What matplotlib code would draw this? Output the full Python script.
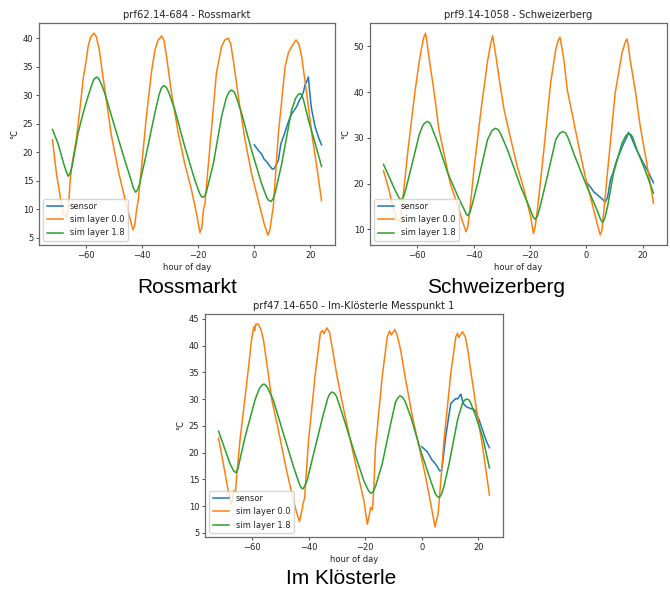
import matplotlib
matplotlib.use("Agg")
import matplotlib.pyplot as plt

# ---------------- data ----------------
hours_label = "hour of day"

ross_sim0_h = [-72, -70.5, -69, -68, -67.0, -66.4, -66.0, -65.6, -65, -63.4, -62, -61, -60, -59.3, -58.4, -57.2, -56.4,
               -55.3, -54.2, -53.3, -51, -48.4, -46, -44.4, -43.3, -42.7, -42.1, -41.4, -40.2, -38.5, -36.7, -35.5,
               -34.4, -33, -32.2, -31.3, -29.5, -27.1, -24.8, -22.4, -20.5, -19.4, -18.7, -18.1, -17.6, -15.2, -13.5,
               -11.7, -10.5, -9.3, -8.4, -7.5, -5.7, -3.3, -1, 1.4, 3.5, 4.8, 5.5, 6.2, 6.8, 8.6, 11, 12.2, 13.3,
               14.9, 15.9, 16.9, 18.7, 20.5, 22.3, 24]
ross_sim0_v = [22.2, 16.0, 11.5, 9.2, 8.7, 9.5, 12.5, 15.5, 18.0, 22.5, 28.5, 33.0, 36.0, 38.5, 40.2, 40.9, 40.3,
               38.0, 34.0, 31.0, 23.0, 16.5, 11.5, 8.5, 6.4, 7.0, 9.5, 11.6, 17.5, 26.2, 34.0, 37.8,
               39.6, 40.4, 39.6, 36.8, 30.3, 23.3, 18.0, 13.4, 9.0, 5.9, 6.8, 10.0, 11.0, 24.5, 33.9,
               38.5, 39.7, 40.0, 39.0, 36.2, 29.8, 22.2, 16.3, 11.6, 7.5, 5.5, 6.2, 8.5, 10.5, 23.3, 35.0, 37.5, 38.5,
               39.7, 39.0, 36.8, 30.3, 23.3, 17.5, 11.5]
ross_sim18_h = [-72, -70, -68, -67, -66.4, -65.7, -65, -62.9, -61, -59.3, -58, -57.2, -56.3, -55.5, -54.5, -53.3,
                -49.8, -46.2, -44, -43.2, -42.3, -41.6, -41, -39, -35.5, -34, -33.2, -32.3, -31.4, -30.5, -28.3,
                -24.8, -21.2, -19.5, -18.8, -18.2, -17.6, -17, -14.6, -11.7, -10, -9, -8.1, -7.2, -6.5,
                -4.5, -1, 2.6, 4.5, 5.3, 6, 6.7, 7.5, 9.8, 13.3, 14.8, 15.6, 16.3, 17, 17.5, 19.3, 21.7, 24]
ross_sim18_v = [24.0, 21.5, 18.0, 16.5, 15.8, 16.3, 17.5, 23.3, 27.0, 29.8, 31.8, 32.8, 33.2, 32.9, 31.9, 30.3,
                24.5, 18.6, 15.2, 13.8, 13.0, 13.4, 14.3, 18.6, 26.8, 30.0, 31.2, 31.7, 31.4, 30.5, 27.4,
                21.0, 15.1, 12.8, 12.2, 12.1, 12.4, 13.2, 18.0, 26.2, 29.5, 30.6, 30.9, 30.6, 29.8,
                26.8, 20.4, 14.5, 12.0, 11.5, 11.4, 11.8, 13.0, 18.0, 27.4, 29.5, 30.1, 30.3, 30.0, 29.3, 25.7, 21.6,
                17.5]
ross_sensor_h = [0, 1.5, 2.6, 3.5, 4.5, 5.5, 6.5, 7.2, 8.0, 8.6, 9.5, 10.4, 11.6, 12.5, 13.4, 14.3, 15.1, 16.0, 16.9,
                 17.5, 18.1, 18.8, 19.3, 19.7, 20.2, 20.5, 21.7, 23, 24]
ross_sensor_v = [21.3, 20.3, 19.7, 18.8, 18.3, 17.6, 17.0, 17.2, 18.0, 18.6, 21.5, 22.7, 24.5, 25.8, 26.8, 27.4, 28.0,
                 29.0, 29.8, 30.5, 31.8, 32.5, 33.2, 31.0, 28.5, 27.4, 24.5, 22.5, 21.3]

schw_sim0_h = [-72, -70, -68.5, -67.3, -66.4, -65.9, -65.5, -65, -63.3, -60.9, -59.5, -58.6, -57.8, -57.1, -56.6, -55.6,
               -54.4, -53.6, -52.4, -50.5, -48.3, -46.0, -44.0, -42.7, -42.1, -41.5, -39.8, -37.4, -35, -34, -33.3,
               -32.8, -32.1, -30.9, -29.2, -26.8, -24.5, -22.1, -19.8, -18.8, -18.2, -17.4, -15.1, -12.7, -10.9,
               -9.9, -9.4, -8.8, -8, -6.8, -5.1, -2.7, -0.4, 2, 3.8, 4.9, 5.5, 6.1, 7.9, 10.2, 12.6, 13.8, 14.4,
               14.9, 15.5, 17.3, 19.1, 21.4, 23.8]
schw_sim0_v = [22.8, 18.5, 14.5, 12.3, 11.7, 12.5, 15.5, 17.5, 27.4, 39.8, 46.0, 49.3, 51.8, 52.9, 51.0, 46.5,
               41.5, 38.0, 32.0, 26.5, 20.0, 15.8, 11.8, 9.5, 10.5, 13.5, 23.7, 36.1, 47.1, 50.5, 52.3,
               50.5, 47.8, 42.7, 36.1, 29.6, 23.7, 18.6, 12.8, 9.1, 10.5, 14.2, 27.4, 42.0, 49.3,
               51.5, 52.0, 50.0, 47.1, 40.5, 35.4, 28.1, 21.5, 15.7, 11.3, 8.8, 9.8, 13.5, 25.2, 39.8, 48.5, 51.0, 51.6,
               50.0, 47.1, 40.5, 32.5, 24.5, 15.7]
schw_sim18_h = [-72, -70, -68, -66.5, -65.6, -64.8, -64, -62.1, -59.2, -57.8, -56.5, -55.6, -55, -52.7, -49.2, -45.6,
                -43.5, -42.6, -42.1, -41.4, -40.5, -38.6, -35.1, -33.5, -32.3, -31.3, -30.5, -28, -23.3, -20, -18.9,
                -18.2, -17.4, -16.5, -13.9, -10.9, -9.5, -8.3, -7.3, -6.5, -4.5, 0.2, 3.8, 5.0, 5.8, 6.6, 7.5, 9.6,
                12.6, 14, 15.2, 16, 16.5, 17.9, 20.8, 23.8]
schw_sim18_v = [24.2, 21.5, 18.7, 16.9, 16.4, 17.3, 19.0, 23.7, 31.0, 33.0, 33.6, 33.3, 32.5, 28.8, 22.3, 17.2,
                14.5, 13.3, 13.0, 13.6, 15.5, 20.1, 29.6, 31.6, 32.1, 31.8, 31.0, 27.4, 19.3, 14.5, 12.7,
                12.2, 12.9, 14.8, 21.5, 29.6, 31.0, 31.4, 31.0, 30.0, 26.6, 19.3, 14.2, 12.2, 11.5, 12.6, 15.0, 22.3,
                28.8, 30.5, 30.9, 30.6, 30.0, 27.4, 23.0, 17.9]
schw_sensor_h = [0, 1.5, 2.6, 4, 5.5, 6.7, 7.5, 8.5, 9.5, 10.8, 12, 13.2, 14.2, 14.9, 15.8, 17.3, 18.5, 20.2, 22, 23.8]
schw_sensor_v = [20.3, 19.2, 18.2, 17.5, 16.7, 16.0, 17.0, 20.8, 22.5, 25.2, 27.0, 28.8, 30.0, 31.2, 30.3, 28.1,
                 26.5, 24.5, 22.5, 20.2]

klos_sim0_h = [-72, -70.3, -68.6, -67.7, -67.2, -66.8, -66.5, -66, -65.5, -64.4, -62, -60.3, -59.5, -59.2, -58.8,
               -57.9, -57, -56.1, -54.9, -53.1, -50.8, -48.4, -46, -44.2, -43.3, -42.8, -42.3, -42.1, -41.5, -40.1,
               -37.7, -35.9, -35.2, -34.7, -33.6, -32.7, -31.8, -30, -27.6, -25.3, -22.9, -20.5, -19.3, -18.7,
               -18.1, -17.5, -17, -16.4, -14, -12.2, -11.4, -10.8, -9.5, -8.5, -7.5, -5.7, -3.3, -0.9, 1.4, 3.2,
               4.7, 5.3, 5.8, 6.2, 7.9, 10.3, 12.1, 12.7, 13.1, 14.5, 15.5, 16.3, 18, 19.8, 21.6, 24]
klos_sim0_v = [22.7, 17.9, 12.9, 10.4, 10.8, 12.5, 12.9, 12.5, 16.0, 22.3, 33.0, 41.1, 43.5, 42.8, 44.0,
               44.0, 43.0, 41.1, 36.7, 29.8, 24.2, 17.9, 12.2, 8.5, 7.1, 8.5, 9.5, 10.4, 11.5, 22.3,
               34.8, 42.4, 42.8, 42.2, 43.3, 42.5, 39.9, 34.2, 27.9, 22.3, 16.6, 11.0, 6.6, 8.0,
               9.7, 9.3, 13.0, 21.0, 34.2, 41.7, 42.7, 42.0, 43.0, 41.5, 39.2, 33.6, 26.7, 21.0, 15.4, 10.4,
               6.1, 7.5, 8.5, 11.0, 22.3, 34.8, 41.7, 42.3, 41.5, 42.6, 41.5, 39.2, 33.0, 26.7, 21.0, 12.0]
klos_sim18_h = [-72, -70, -68, -66.7, -65.8, -65.1, -64.5, -62.6, -59.1, -57.5, -56.6, -55.9, -55.1, -54.5, -52.6,
                -49, -45.4, -43.5, -42.7, -42.1, -41.4, -40.5, -38.3, -34.8, -33.2, -32.5, -31.8, -31, -30.2, -28.2,
                -24.1, -20.5, -19, -18.3, -17.8, -17.1, -16.3, -14, -11, -9.3, -8.5, -7.7, -6.8, -6, -3.9, -0.4,
                3.2, 4.8, 5.5, 6.2, 7.0, 7.8, 9.7, 12.7, 14.4, 15.2, 16, 16.8, 17.4, 19.2, 21.6, 24]
klos_sim18_v = [24.0, 21.0, 18.0, 16.6, 16.2, 17.0, 18.5, 22.9, 29.8, 32.0, 32.6, 32.8, 32.5, 32.0, 29.8,
                23.5, 17.3, 14.3, 13.4, 13.2, 13.8, 15.0, 19.8, 27.3, 30.3, 31.0, 31.3, 31.1, 30.5, 27.3,
                20.4, 14.7, 13.0, 12.5, 12.4, 12.8, 13.8, 17.9, 25.4, 29.4, 30.2, 30.6, 30.3, 29.7, 26.7, 20.4,
                14.7, 12.3, 11.8, 11.6, 12.2, 13.5, 17.9, 26.1, 29.2, 29.8, 30.0, 29.8, 29.2, 26.7, 22.9, 17.1]
klos_sensor_h = [0, 1, 2, 3, 3.8, 4.7, 5.6, 6.3, 7, 7.5, 8.5, 9.5, 10.3, 11.5, 12.1, 12.7, 13.3, 13.9, 14.5, 15.1,
                 16, 17.4, 18.6, 19.2, 20.4, 21.3, 22.2, 23, 24]
klos_sensor_v = [21.1, 20.6, 20.1, 19.2, 18.5, 18.0, 17.3, 16.6, 16.6, 18.5, 23.0, 26.5, 29.2, 29.8, 30.1, 30.0,
                 30.5, 30.9, 29.5, 28.9, 28.5, 28.2, 28.0, 27.6, 26.0, 24.6, 23.2, 22.0, 20.9]

titles = ["prf62.14-684 - Rossmarkt", "prf9.14-1058 - Schweizerberg", "prf47.14-650 - Im-Klösterle Messpunkt 1"]
captions = ["Rossmarkt", "Schweizerberg", "Im Klösterle"]
series_labels = ["sensor", "sim layer 0.0", "sim layer 1.8"]

panels = [
    (ross_sensor_h, ross_sensor_v, ross_sim0_h, ross_sim0_v, ross_sim18_h, ross_sim18_v),
    (schw_sensor_h, schw_sensor_v, schw_sim0_h, schw_sim0_v, schw_sim18_h, schw_sim18_v),
    (klos_sensor_h, klos_sensor_v, klos_sim0_h, klos_sim0_v, klos_sim18_h, klos_sim18_v),
]

# ---------------- style ----------------
plt.rcParams.update({
    "font.family": ["DejaVu Sans"],
    "font.size": 6,
    "lines.linewidth": 1.1,
    "lines.solid_joinstyle": "round",
    "axes.linewidth": 0.9,
    "axes.edgecolor": "#6a6a6a",
    "xtick.color": "#333333",
    "ytick.color": "#333333",
    "xtick.labelcolor": "#222222",
    "ytick.labelcolor": "#222222",
    "xtick.major.size": 2.1,
    "ytick.major.size": 2.1,
    "xtick.major.width": 0.6,
    "ytick.major.width": 0.6,
    "xtick.major.pad": 2.1,
    "ytick.major.pad": 2.1,
    "axes.labelpad": 2.4,
    "axes.titlepad": 3.6,
    "legend.fontsize": 6,
    "text.color": "#222222",
    "axes.labelcolor": "#222222",
})

W, H = 670, 589
fig = plt.figure(figsize=(W / 100, H / 100), dpi=100)

# axes boxes in pixels: left, top, right, bottom
boxes = [(39, 23, 335, 245), (370, 23, 667, 245), (205, 314, 503, 537)]
caption_pos = [(187, 288), (496, 288), (341, 578)]
colors = ["#1f77b4", "#ff7f0e", "#2ca02c"]

for i, (box, data) in enumerate(zip(boxes, panels)):
    l, t, r, b = box
    ax = fig.add_axes([l / W, 1 - b / H, (r - l) / W, (b - t) / H])
    sh, sv, s0h, s0v, s1h, s1v = data
    ax.plot(sh, sv, color=colors[0], label=series_labels[0])
    ax.plot(s0h, s0v, color=colors[1], label=series_labels[1])
    ax.plot(s1h, s1v, color=colors[2], label=series_labels[2])
    ax.set_title(titles[i], fontsize=7.2)
    ax.set_xlabel(hours_label)
    ax.set_ylabel("°C")
    ax.legend(loc="lower left")
    cx, cy = caption_pos[i]
    fig.text(cx / W, 1 - cy / H, captions[i], ha="center", va="center",
             fontsize=15, color="black", family=["Liberation Sans", "DejaVu Sans"])

fig.savefig("out.png", dpi=100)
